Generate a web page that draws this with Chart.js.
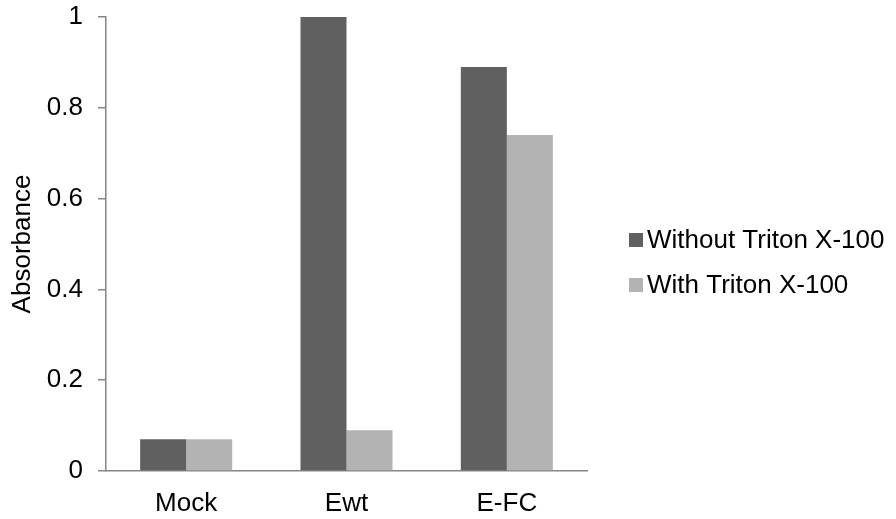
<!DOCTYPE html>
<html>
<head>
<meta charset="utf-8">
<script src="https://cdn.jsdelivr.net/npm/chart.js@4/dist/chart.umd.min.js"></script>
<style>
  html, body { margin: 0; padding: 0; background: #ffffff; }
  #wrap { width: 896px; height: 519px; }
</style>
</head>
<body>
<div id="wrap"><canvas id="chart" width="896" height="519"></canvas></div>
<script>
// Absorbance of each sample, measured without and with Triton X-100
const categories = ['Mock', 'Ewt', 'E-FC'];
const seriesNames = ['Without Triton X-100', 'With Triton X-100'];
const withoutTriton = [0.07, 1.00, 0.89];
const withTriton = [0.07, 0.09, 0.74];
const yTickLabels = ['0', '0.2', '0.4', '0.6', '0.8', '1'];

const FONT = "'Liberation Sans', Arial, sans-serif";
const DARK = '#606060';
const LIGHT = '#b3b3b3';
const AXIS = '#868686';

// Legend drawn to the right of the plot area
const sideLegend = {
  id: 'sideLegend',
  afterDraw(chart) {
    const { ctx, chartArea } = chart;
    const x0 = chartArea.right + 42;
    const rows = [
      { label: seriesNames[0], color: DARK, y: 240 },
      { label: seriesNames[1], color: LIGHT, y: 285 }
    ];
    ctx.save();
    ctx.font = '26px ' + FONT;
    ctx.textBaseline = 'middle';
    ctx.textAlign = 'left';
    rows.forEach(r => {
      ctx.fillStyle = r.color;
      ctx.fillRect(x0, r.y - 7, 14, 14);
      ctx.fillStyle = '#000000';
      ctx.fillText(r.label, x0 + 18, r.y + 1);
    });
    ctx.restore();
  }
};

new Chart(document.getElementById('chart'), {
  type: 'bar',
  data: {
    labels: categories,
    datasets: [
      { label: seriesNames[0], data: withoutTriton, backgroundColor: DARK },
      { label: seriesNames[1], data: withTriton, backgroundColor: LIGHT }
    ]
  },
  options: {
    responsive: false,
    animation: false,
    devicePixelRatio: 1,
    categoryPercentage: 0.574,
    barPercentage: 1.0,
    layout: { padding: { left: 0, right: 309, top: 17, bottom: 0 } },
    plugins: {
      legend: { display: false },
      tooltip: { enabled: false }
    },
    scales: {
      x: {
        grid: { drawOnChartArea: false, drawTicks: false },
        border: { color: AXIS, width: 1.5 },
        ticks: { color: '#000000', font: { family: FONT, size: 26 }, padding: 17 },
        afterFit(scale) { scale.height = 48; }
      },
      y: {
        min: 0,
        max: 1,
        ticks: {
          stepSize: 0.2,
          color: '#000000',
          font: { family: FONT, size: 26 },
          padding: 15,
          callback: (v, i) => yTickLabels[i]
        },
        grid: { drawOnChartArea: false, drawTicks: true, tickLength: 8, color: AXIS, lineWidth: 1.5 },
        border: { color: AXIS, width: 1.5 },
        title: {
          display: true,
          text: 'Absorbance',
          color: '#000000',
          font: { family: FONT, size: 26 },
          padding: { top: 7, bottom: 0 }
        },
        afterFit(scale) {
          scale.width = 106;
          // plot top is set by the layout padding alone
          scale.paddingTop = 0;
          scale.paddingBottom = 0;
        }
      }
    }
  },
  plugins: [sideLegend]
});
</script>
</body>
</html>
